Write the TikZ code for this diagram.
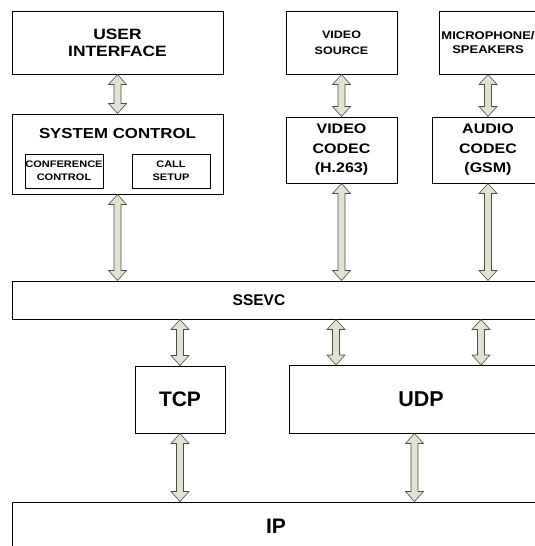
\documentclass[tikz,border=0pt]{standalone}
\usepackage{fontspec}
\setmainfont{Liberation Sans}
\newfontfamily\widefont{Liberation Sans}[FakeStretch=1.16]
\usetikzlibrary{calc}

\definecolor{arrowfill}{HTML}{E0E3D2}
\tikzset{
	box/.style={draw,line width=1pt,inner sep=0pt,align=center},
	inbox/.style={draw,line width=.8pt,inner sep=0pt,align=center},
	blockarrow/.style={draw=black!70,line width=.6pt,fill=arrowfill,line join=miter},
}

\newcommand{\dblarrow}[2]{%
	\draw[blockarrow] let \p1=(#1), \p2=(#2) in
		(\x1,\y1) -- ++(9pt,-10pt) -- ++(-5.5pt,0pt) -- (\x1+3.5pt,\y2+10pt)
		-- ++(5.5pt,0pt) -- (\x1,\y2) -- ++(-9pt,10pt) -- ++(5.5pt,0pt)
		-- (\x1-3.5pt,\y1-10pt) -- ++(-5.5pt,0pt) -- cycle;}

\begin{document}
\begin{tikzpicture}[x=1pt,y=-1pt]
	\useasboundingbox (0,0) rectangle (535,546);
	\clip (0,0) rectangle (535,546);

	% upper row
	\node[box,minimum width=211pt,minimum height=63pt,font=\widefont\bfseries\fontsize{15}{16.7}\selectfont]
		(ui) at (117.5,42.5) {USER\\INTERFACE};
	\node[box,minimum width=111pt,minimum height=63pt,font=\widefont\bfseries\fontsize{10.8}{16}\selectfont]
		(vsrc) at (341.5,42.5) {VIDEO\\SOURCE};
	\node[box,minimum width=98pt,minimum height=63pt,font=\widefont\bfseries\fontsize{11.2}{13.5}\selectfont]
		(mic) at (488,42.5) {MICROPHONE/\\SPEAKERS};

	% system control and codecs
	\node[box,minimum width=211pt,minimum height=80pt] (sc) at (117.5,154) {};
	\node[inner sep=0pt,font=\widefont\bfseries\fontsize{14.5}{17}\selectfont]
		(sctitle) at (117.5,134) {SYSTEM CONTROL};
	\node[inbox,minimum width=78pt,minimum height=34pt,font=\widefont\bfseries\fontsize{9.5}{13}\selectfont]
		(conf) at (64,171) {CONFERENCE\\CONTROL};
	\node[inbox,minimum width=78pt,minimum height=34pt,font=\widefont\bfseries\fontsize{9.5}{13}\selectfont]
		(call) at (171,171) {CALL\\SETUP};
	\node[box,minimum width=111pt,minimum height=66pt,font=\widefont\bfseries\fontsize{13.8}{19.5}\selectfont]
		(vcodec) at (341.5,150) {VIDEO\\CODEC\\(H.263)};
	\node[box,minimum width=112pt,minimum height=66pt,font=\widefont\bfseries\fontsize{13.8}{19.5}\selectfont]
		(acodec) at (488,150) {AUDIO\\CODEC\\(GSM)};

	% protocol stack
	\node[box,minimum width=528pt,minimum height=38pt] (ssevc) at (276,300) {};
	\node[inner sep=0pt,font=\bfseries\fontsize{15.5}{18}\selectfont] (ssevctext) at (259,300) {SSEVC};
	\node[box,minimum width=90pt,minimum height=67pt,font=\bfseries\fontsize{21}{25}\selectfont]
		(tcp) at (180,399.5) {TCP};
	\node[box,minimum width=251pt,minimum height=68pt,font=\bfseries\fontsize{21.5}{25}\selectfont]
		(udp) at (414.5,399) {\hspace*{13pt}UDP};
	\node[box,minimum width=528pt,minimum height=48pt,font=\bfseries\fontsize{21}{25}\selectfont]
		(ip) at (276,526) {IP};

	\coordinate (udpa) at (336,365);
	\coordinate (udpb) at (481,365);

	% connectors
	\foreach \a/\b in {ui.south/sc.north,sc.south/{sc.south |- ssevc.north},
		vsrc.south/vcodec.north,vcodec.south/{vcodec.south |- ssevc.north},
		mic.south/acodec.north,acodec.south/{acodec.south |- ssevc.north},
		{tcp.north |- ssevc.south}/tcp.north,{udpa |- ssevc.south}/udpa,{udpb |- ssevc.south}/udpb,
		tcp.south/{tcp.south |- ip.north},udp.south/{udp.south |- ip.north}}
		\dblarrow{\a}{\b};
\end{tikzpicture}
\end{document}
